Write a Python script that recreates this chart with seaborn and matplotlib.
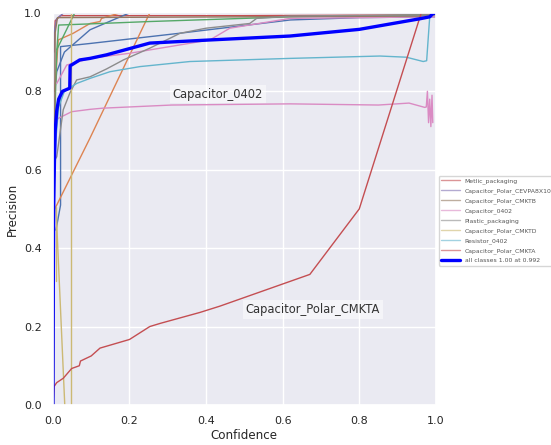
import numpy as np
import pandas as pd
import matplotlib
matplotlib.use('Agg')
import matplotlib.pyplot as plt
import seaborn as sns

# per-class precision vs confidence curves
metlic_x = [0.003, 0.006, 0.02, 0.5, 1.0]
metlic_y = [0.90, 0.98, 0.993, 0.993, 0.995]

cevpa_x = [0.0, 0.003, 0.01, 0.027, 0.3, 1.0]
cevpa_y = [0.50, 0.95, 0.985, 0.999, 1.0, 1.0]

cmktb_x = [0.002, 0.004, 0.006, 0.012, 0.5, 0.96, 1.0]
cmktb_y = [0.0, 0.60, 0.95, 0.988, 0.99, 0.992, 1.0]

cap0402_x = [0.004, 0.01, 0.014, 0.049, 0.097, 0.13, 0.31, 0.62, 0.85, 0.93, 0.971,
             0.975, 0.978, 0.981, 0.984, 0.987, 0.99, 0.992]
cap0402_y = [0.70, 0.727, 0.731, 0.748, 0.754, 0.757, 0.765, 0.768, 0.765, 0.77, 0.759,
             0.76, 0.80, 0.72, 0.78, 0.71, 0.79, 0.72]

plastic_x = [0.003, 0.005, 0.01, 0.027, 0.044, 0.062, 0.097, 0.14, 0.184, 0.253, 0.332,
             0.40, 0.514, 0.532, 0.62, 1.0]
plastic_y = [0.55, 0.625, 0.633, 0.753, 0.795, 0.829, 0.837, 0.857, 0.88, 0.91, 0.948,
             0.961, 0.973, 0.986, 0.992, 0.995]

cmktd_x = [0.031, 0.008]
cmktd_y = [0.0, 0.506]
cmktd2_x = [0.008, 0.008]
cmktd2_y = [0.315, 0.506]
cmktd3_x = [0.046, 0.046]
cmktd3_y = [0.0, 1.0]

resistor_x = [0.002, 0.008, 0.015, 0.03, 0.062, 0.097, 0.149, 0.227, 0.358, 0.62, 0.854,
              0.923, 0.967, 0.976, 0.984, 0.99, 1.0]
resistor_y = [0.55, 0.68, 0.76, 0.80, 0.82, 0.833, 0.85, 0.863, 0.876, 0.884, 0.89,
              0.887, 0.876, 0.878, 0.99, 1.0, 1.0]

cmkta_x = [0.0, 0.003, 0.01, 0.027, 0.049, 0.069, 0.072, 0.10, 0.123, 0.20, 0.253, 0.28,
           0.384, 0.436, 0.671, 0.80, 0.962, 1.0]
cmkta_y = [0.0, 0.047, 0.057, 0.068, 0.093, 0.10, 0.112, 0.125, 0.145, 0.167, 0.20, 0.208,
           0.236, 0.252, 0.333, 0.50, 1.0, 1.0]

# other classes without legend entry
blue_a_x = [0.008, 0.02, 0.02, 0.097, 0.33, 0.62, 0.8, 1.0]
blue_a_y = [0.446, 0.51, 0.914, 0.922, 0.948, 0.982, 0.988, 0.99]
blue_b_x = [0.005, 0.01, 0.03, 0.097, 0.2, 1.0]
blue_b_y = [0.80, 0.85, 0.90, 0.957, 1.0, 1.0]
orange_a_x = [0.005, 0.097, 0.253]
orange_a_y = [0.50, 0.681, 1.0]
orange_b_x = [0.005, 0.014, 0.053, 0.097, 0.123, 0.127, 0.175]
orange_b_y = [0.80, 0.931, 0.948, 0.973, 0.978, 0.986, 1.0]
green_a_x = [0.004, 0.01, 0.015, 0.097, 0.253, 0.62, 1.0]
green_a_y = [0.70, 0.90, 0.969, 0.972, 0.978, 0.99, 0.995]
green_b_x = [0.01, 0.057]
green_b_y = [0.906, 1.0]
pink_b_x = [0.01, 0.036, 0.097, 0.2, 0.41, 0.462, 0.62, 1.0]
pink_b_y = [0.82, 0.867, 0.884, 0.897, 0.931, 0.961, 0.986, 0.99]

all_x = [0.0, 0.001, 0.002, 0.004, 0.006, 0.01, 0.015, 0.025, 0.044, 0.045, 0.07, 0.097,
         0.14, 0.253, 0.41, 0.619, 0.80, 0.958, 0.984, 0.992, 1.0]
all_y = [0.0, 0.3, 0.5, 0.62, 0.70, 0.75, 0.78, 0.80, 0.808, 0.865, 0.88, 0.884,
         0.893, 0.923, 0.931, 0.941, 0.958, 0.985, 0.99, 0.998, 1.0]

sns.set_theme(style='darkgrid')
pal = sns.color_palette('deep')

fig = plt.figure(figsize=(5.51, 4.45), dpi=100)
ax = fig.add_axes([0.096, 0.09, 0.695, 0.881])


def curve(x, y, color, label=None, lw=1):
    sns.lineplot(x=x, y=y, color=color, lw=lw, label=label, sort=False,
                 estimator=None, ax=ax, legend=label is not None)


curve(metlic_x, metlic_y, pal[3], 'Metlic_packaging')
curve(blue_a_x, blue_a_y, pal[0])
curve(blue_b_x, blue_b_y, pal[0])
curve(orange_a_x, orange_a_y, pal[1])
curve(orange_b_x, orange_b_y, pal[1])
curve(green_a_x, green_a_y, pal[2])
curve(green_b_x, green_b_y, pal[2])
curve(pink_b_x, pink_b_y, pal[6])

curve(cevpa_x, cevpa_y, pal[4], 'Capacitor_Polar_CEVPA8X10')
curve(cmktb_x, cmktb_y, pal[5], 'Capacitor_Polar_CMKTB')
curve(cap0402_x, cap0402_y, pal[6], 'Capacitor_0402')
curve(plastic_x, plastic_y, pal[7], 'Plastic_packaging')
curve(cmktd_x, cmktd_y, pal[8], 'Capacitor_Polar_CMKTD')
curve(cmktd2_x, cmktd2_y, pal[8])
curve(cmktd3_x, cmktd3_y, pal[8])
curve(resistor_x, resistor_y, pal[9], 'Resistor_0402')
curve(cmkta_x, cmkta_y, pal[3], 'Capacitor_Polar_CMKTA')
curve(all_x, all_y, 'blue', 'all classes 1.00 at 0.992', lw=2.4)

ax.set_xlim(0, 1)
ax.set_ylim(0, 1)
ax.set_xticks(np.arange(0, 1.01, 0.2))
ax.set_yticks(np.arange(0, 1.01, 0.2))
ax.tick_params(labelsize=8, pad=2)
ax.set_xlabel('Confidence', fontsize=8.6, labelpad=2)
ax.set_ylabel('Precision', fontsize=8.6, labelpad=4)

box = dict(facecolor='white', alpha=0.5, edgecolor='none', pad=2)
ax.text(0.313, 0.793, 'Capacitor_0402', fontsize=8.3, color='#333333', va='center', bbox=box)
ax.text(0.503, 0.244, 'Capacitor_Polar_CMKTA', fontsize=8.3, color='#333333', va='center', bbox=box)

leg = ax.legend(loc='center left', bbox_to_anchor=(1.005, 0.47), fontsize=4.4,
                facecolor='white', framealpha=0.8, handlelength=3, labelspacing=0.65,
                borderaxespad=0.2)
for h in leg.get_lines()[:-1]:
    h.set_alpha(0.6)
for t in leg.get_texts():
    t.set_color('#555555')

fig.savefig('out.png', dpi=100)
